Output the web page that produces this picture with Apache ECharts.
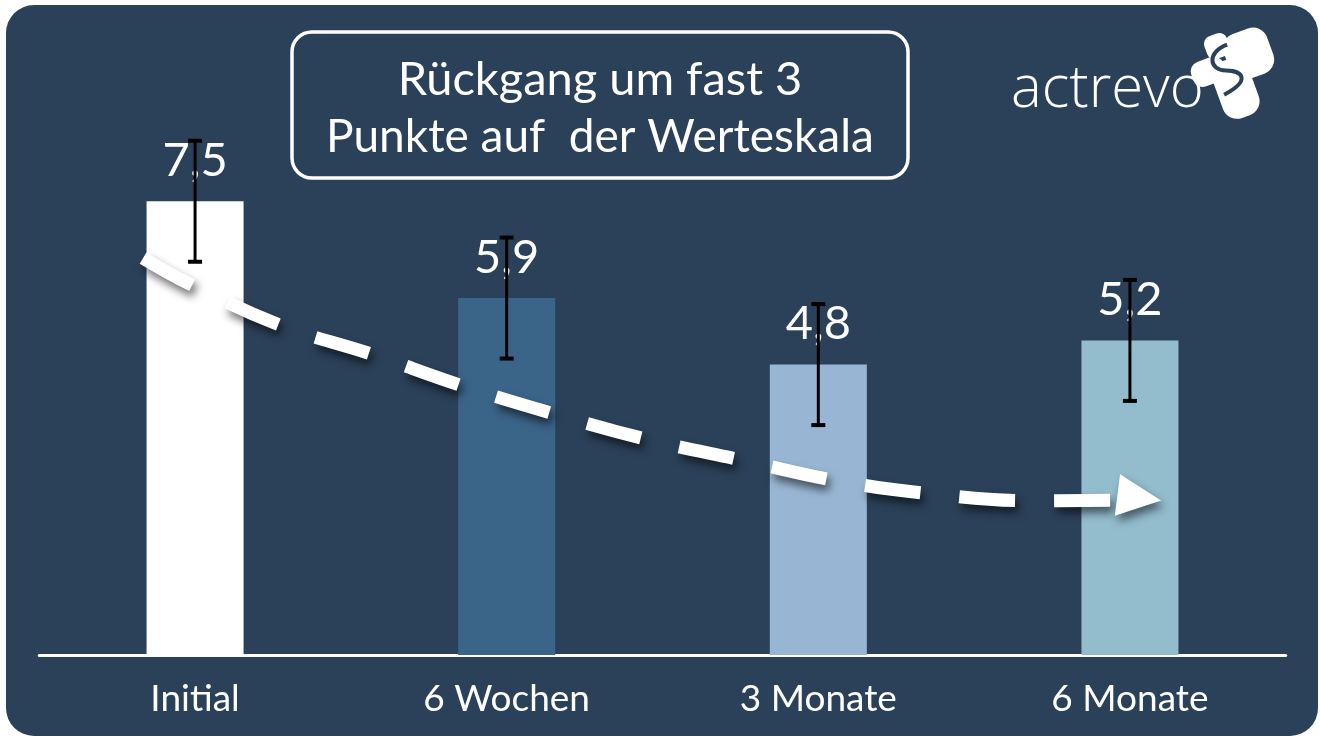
<!DOCTYPE html>
<html>
<head>
<meta charset="utf-8">
<script src="https://cdn.jsdelivr.net/npm/echarts@6/dist/echarts.min.js"></script>
<style>
html,body{margin:0;padding:0;background:#ffffff;}
#chart{width:1320px;height:738px;}
</style>
</head>
<body>
<div id="chart"></div>
<script>
// ---- data ----
const categories = ['Initial', '6 Wochen', '3 Monate', '6 Monate'];
const values = [7.5, 5.9, 4.8, 5.2];
const errors = [1.0, 1.0, 1.0, 1.0];
const titleLines = ['Rückgang um fast 3', 'Punkte auf  der Werteskala'];
const logoText = 'actrevo';
// trend arrow path (x in category units, y in scale units)
const arrowX = [-0.167, -0.016, 0.279, 0.562, 0.851, 1.156, 1.461, 1.756, 2.061, 2.369, 2.681, 2.963];
const arrowY = [6.56, 6.13, 5.44, 4.98, 4.46, 3.98, 3.55, 3.22, 2.88, 2.66, 2.55, 2.56];
const arrowHead = [3.03, 2.60];

// ---- styles ----
const BG = '#2b4159';
const barColors = ['#ffffff', '#3b6489', '#98b6d3', '#93bccc'];
const FONT = 'Lato, "Noto Sans", sans-serif';

const chart = echarts.init(document.getElementById('chart'), null, {renderer: 'canvas'});

const barData = values.map((v, i) => ({value: v, itemStyle: {color: barColors[i]}}));
const errData = values.map((v, i) => [i, v - errors[i], v + errors[i]]);
const arrowData = arrowX.map((x, i) => [x, arrowY[i]]);

const option = {
  backgroundColor: '#ffffff',
  animation: false,
  grid: {left: 39.25, right: 34.25, top: 50, bottom: 83},
  xAxis: [
    {
      type: 'category', data: categories,
      axisLine: {show: true, lineStyle: {color: '#ffffff', width: 3}},
      axisTick: {show: false},
      axisLabel: {color: '#ffffff', fontSize: 37, fontFamily: FONT, margin: 26}
    },
    {type: 'value', min: -0.5, max: 3.5, show: false}
  ],
  yAxis: {type: 'value', min: 0, max: 10, show: false, splitLine: {show: false}},
  graphic: [
    {type: 'rect', z: -10, silent: true,
     shape: {x: 6, y: 5, width: 1312, height: 731, r: 28},
     style: {fill: BG}},
    {type: 'rect', z: 10,
     shape: {x: 292, y: 32, width: 616, height: 146, r: 20},
     style: {fill: 'none', stroke: '#ffffff', lineWidth: 3.5}},
    {type: 'text', z: 11, x: 600, y: 80,
     style: {text: titleLines[0], fill: '#ffffff', font: '400 47px ' + FONT, textAlign: 'center', textVerticalAlign: 'middle'}},
    {type: 'text', z: 11, x: 600, y: 137,
     style: {text: titleLines[1], fill: '#ffffff', font: '400 46px ' + FONT, textAlign: 'center', textVerticalAlign: 'middle'}},
    {type: 'text', z: 11, x: 1011, y: 90,
     style: {text: logoText, fill: '#ffffff', font: '300 58px "Open Sans", Lato, sans-serif', textAlign: 'left', textVerticalAlign: 'middle'}},
    // logo blob
    {type: 'group', z: 11, x: 1240, y: 74, rotation: 0.35, children: [
      {type: 'rect', shape: {x: -24, y: -46, width: 24, height: 24, r: 8}, style: {fill: '#fff'}},
      {type: 'rect', shape: {x: -8, y: -40, width: 46, height: 48, r: 15}, style: {fill: '#fff'}},
      {type: 'rect', shape: {x: -46, y: -26, width: 34, height: 26, r: 10}, style: {fill: '#fff'}},
      {type: 'rect', shape: {x: -28, y: -18, width: 38, height: 60, r: 15}, style: {fill: '#fff'}},
      {type: 'bezierCurve', shape: {x1: -2, y1: -32, cpx1: -24, cpy1: -32, cpx2: -28, cpy2: -14, x2: -12, y2: -8},
       style: {fill: 'none', stroke: BG, lineWidth: 4}},
      {type: 'bezierCurve', shape: {x1: -12, y1: -8, cpx1: 4, cpy1: -2, cpx2: 8, cpy2: 10, x2: -22, y2: 14},
       style: {fill: 'none', stroke: BG, lineWidth: 4}}
    ]}
  ],
  series: [
    {
      type: 'bar', data: barData, barWidth: 97, z: 2,
      label: {
        show: true, position: 'top', distance: 17,
        color: '#ffffff', fontSize: 47, fontFamily: FONT,
        formatter: p => String(p.value).replace('.', ',')
      }
    },
    {
      type: 'line', xAxisIndex: 1, data: arrowData, smooth: 0.4,
      symbol: 'none', z: 4,
      lineStyle: {color: '#ffffff', width: 13, type: [56, 39], cap: 'butt',
        shadowColor: 'rgba(0,0,0,0.55)', shadowBlur: 8, shadowOffsetX: 3, shadowOffsetY: 6}
    },
    {
      type: 'scatter', xAxisIndex: 1, data: [arrowHead], z: 4,
      symbol: 'triangle', symbolSize: [42, 44], symbolRotate: -97,
      itemStyle: {color: '#ffffff', opacity: 1, shadowColor: 'rgba(0,0,0,0.5)', shadowBlur: 8, shadowOffsetX: 3, shadowOffsetY: 6}
    },
    {
      type: 'custom', z: 6, data: errData,
      renderItem: function (params, api) {
        const x = api.value(0);
        const lo = api.coord([x, api.value(1)]);
        const hi = api.coord([x, api.value(2)]);
        const cw = 7;
        return {type: 'group', children: [
          {type: 'line', shape: {x1: hi[0], y1: hi[1], x2: lo[0], y2: lo[1]}, style: {stroke: '#000', lineWidth: 3}},
          {type: 'line', shape: {x1: hi[0] - cw, y1: hi[1], x2: hi[0] + cw, y2: hi[1]}, style: {stroke: '#000', lineWidth: 4}},
          {type: 'line', shape: {x1: lo[0] - cw, y1: lo[1], x2: lo[0] + cw, y2: lo[1]}, style: {stroke: '#000', lineWidth: 4}}
        ]};
      }
    }
  ]
};
chart.setOption(option);
</script>
</body>
</html>
